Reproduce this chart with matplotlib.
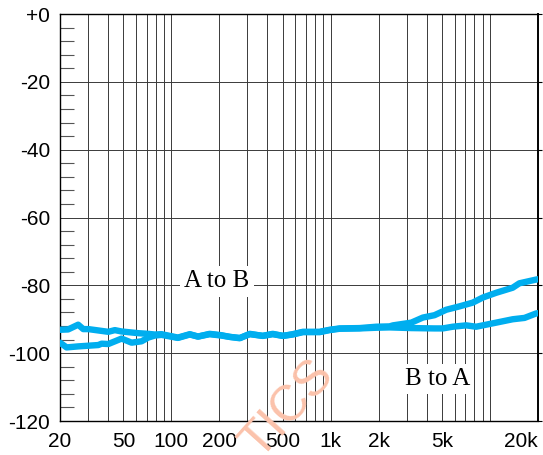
import numpy as np
import matplotlib.pyplot as plt
from matplotlib.ticker import FixedLocator, NullFormatter

# upper curve at 20 Hz (A to B)
freq_ab = [20, 22.5, 26.0, 28.0, 30.1, 34.8, 40.2, 44.2, 48.7, 56.3, 61.9, 71.6, 78.8,
           86.8, 110, 130.6, 147, 174, 206, 233, 269, 311, 375, 433, 502, 578, 670,
           853, 986, 1138, 1520, 1934, 2344, 2463, 3207, 3794, 4490, 5316, 6440,
           7800, 9020, 10940, 13900, 15310, 19480, 20000]
db_ab = [-93.1, -93.0, -91.6, -92.9, -92.9, -93.3, -93.7, -93.2, -93.6, -93.9, -94.1, -94.3, -94.5,
         -94.4, -95.4, -94.4, -95.1, -94.3, -94.7, -95.2, -95.6, -94.3, -94.9, -94.3, -94.9, -94.4, -93.7,
         -93.7, -93.1, -92.7, -92.6, -92.2, -92.1, -91.8, -91.0, -89.5, -88.8, -87.2, -86.2,
         -85.1, -83.6, -82.2, -80.7, -79.4, -78.3, -78.2]

# lower curve at 20 Hz (B to A)
freq_ba = [20, 22.0, 26.0, 30.1, 34.8, 36.5, 40.2, 48.7, 56.3, 65, 71.6, 78.8,
           86.8, 110, 130.6, 147, 174, 206, 233, 269, 311, 375, 433, 502, 578, 670,
           853, 986, 1138, 1520, 1934, 2344, 3207, 4490, 5061, 5845, 7096, 8195,
           9933, 10940, 13900, 16500, 19480, 20000]
db_ba = [-96.9, -98.3, -98.0, -97.8, -97.6, -97.2, -97.3, -95.7, -96.9, -96.5, -95.4, -94.8,
         -94.6, -95.5, -94.5, -95.1, -94.4, -94.8, -95.2, -95.5, -94.4, -94.9, -94.4, -94.9, -94.5, -93.8,
         -93.8, -93.2, -92.8, -92.7, -92.5, -92.4, -92.6, -92.7, -92.7, -92.2, -91.8, -92.2,
         -91.4, -91.0, -90.0, -89.6, -88.3, -88.2]

xlabels = ['20', '50', '100', '200', '500', '1k', '2k', '5k', '20k']
xlabel_pos = [20, 50, 100, 200, 500, 1000, 2000, 5000, 20000]
ylabels = ['+0', '-20', '-40', '-60', '-80', '-100', '-120']
ylabel_pos = [0, -20, -40, -60, -80, -100, -120]

plt.rcParams['font.family'] = ['Liberation Sans', 'DejaVu Sans']

fig = plt.figure(figsize=(5.43, 4.55), dpi=100)
ax = fig.add_axes([0.1105, 0.0747, 0.880, 0.8945])
ax.set_facecolor('none')

# watermark, behind the grid
fig.text(0.53, 0.10, 'TICS', rotation=48, fontsize=36, color='#fbc2ab',
         ha='center', va='center', zorder=0, family='Liberation Sans')

ax.set_xscale('log')
ax.set_xlim(20, 20000)
ax.set_ylim(-120, 0)

# grid at every 1..9 step of each decade
grid_f = [m * 10 ** d for d in range(1, 5) for m in range(1, 10)]
grid_f = [g for g in grid_f if 20 < g < 20000]
for g in grid_f:
    ax.axvline(g, color='#3a3a3a', lw=0.7, zorder=1)
for y in ylabel_pos[1:-1]:
    ax.axhline(y, color='#3a3a3a', lw=0.7, zorder=1)

ax.plot(freq_ab, db_ab, color='#00aeef', lw=4.6, solid_capstyle='round', zorder=3)
ax.plot(freq_ba, db_ba, color='#00aeef', lw=4.6, solid_capstyle='round', zorder=3)

ax.xaxis.set_major_locator(FixedLocator(xlabel_pos))
ax.set_xticklabels(xlabels)
ax.xaxis.set_minor_locator(FixedLocator([]))
ax.xaxis.set_minor_formatter(NullFormatter())
ax.tick_params(axis='x', which='both', length=0, pad=8, labelsize=15)
ax.get_xticklabels()[-1].set_horizontalalignment('right')

ax.yaxis.set_major_locator(FixedLocator(ylabel_pos))
ax.set_yticklabels(ylabels)
ax.yaxis.set_minor_locator(FixedLocator([v for v in range(-116, 0, 4) if v % 20 != 0]))
ax.tick_params(axis='y', which='major', length=3, right=True, direction='out', pad=4, labelsize=15)
ax.tick_params(axis='y', which='major', left=False)
ax.tick_params(axis='y', which='minor', direction='in', length=10, width=0.8, color='#555555')

for s in ax.spines.values():
    s.set_color('black')
    s.set_linewidth(1.0)
ax.spines['right'].set_linewidth(1.4)

ax.text(193, -78.8, 'A to B', family='Liberation Serif', fontsize=18, ha='center', va='center',
        zorder=4, bbox=dict(facecolor='white', edgecolor='none', pad=3))
ax.text(4690, -107.6, 'B to A', family='Liberation Serif', fontsize=18, ha='center', va='center',
        zorder=4, bbox=dict(facecolor='white', edgecolor='none', pad=3))

plt.savefig('out.png', dpi=100)
